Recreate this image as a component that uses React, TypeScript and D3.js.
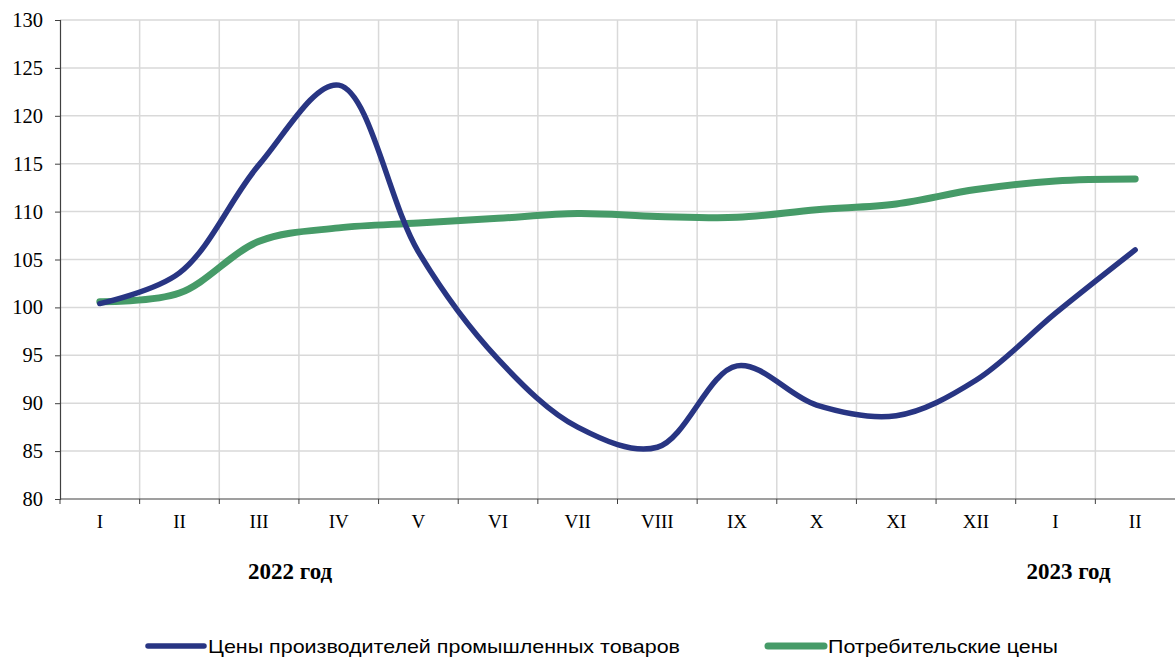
import React, { useEffect, useRef } from 'react';
import * as d3 from 'd3';

// months, 2022 I .. 2023 II
const months = ['I', 'II', 'III', 'IV', 'V', 'VI', 'VII', 'VIII', 'IX', 'X', 'XI', 'XII', 'I ', 'II '];
const producerPrices = [100.4, 103.6, 114.9, 123.2, 105.8, 94.6, 87.5, 85.4, 93.9, 89.8, 88.7, 92.4, 99.4, 106.0];
const consumerPrices = [100.6, 101.5, 106.9, 108.3, 108.8, 109.3, 109.8, 109.5, 109.4, 110.2, 110.8, 112.3, 113.2, 113.4];
const yTicks = [80, 85, 90, 95, 100, 105, 110, 115, 120, 125, 130];
const yearLabels = [
  { label: '2022 год', at: 'III', shift: 31 },
  { label: '2023 год', at: 'I ', shift: 13 },
];
const seriesNames = ['Цены производителей промышленных товаров', 'Потребительские цены'];
const seriesColors = ['#283583', '#469b68'];

const W = 1175;
const H = 662;

export default function App() {
  const svgRef = useRef<SVGSVGElement>(null);

  useEffect(() => {
    if (!svgRef.current) return;
    const svg = d3.select(svgRef.current);
    svg.selectAll('*').remove();

    const margin = { top: 20, right: 0, bottom: 163, left: 60 };
    const innerW = W - margin.left - margin.right;
    const innerH = H - margin.top - margin.bottom;
    const serif = '"Liberation Serif", "Times New Roman", serif';

    const x = d3.scaleBand().domain(months).range([0, innerW]);
    const y = d3.scaleLinear().domain([80, 130]).range([innerH, 0]);

    const g = svg.append('g').attr('transform', `translate(${margin.left},${margin.top})`);

    // horizontal grid
    g.append('g')
      .selectAll('line')
      .data(yTicks.filter(t => t > 80))
      .join('line')
      .attr('x1', 0)
      .attr('x2', innerW)
      .attr('y1', d => y(d))
      .attr('y2', d => y(d))
      .attr('stroke', '#d9d9d9')
      .attr('stroke-width', 1.5);

    // vertical grid at band edges
    g.append('g')
      .selectAll('line')
      .data(months.slice(1))
      .join('line')
      .attr('x1', d => x(d) || 0)
      .attr('x2', d => x(d) || 0)
      .attr('y1', 0)
      .attr('y2', innerH)
      .attr('stroke', '#d9d9d9')
      .attr('stroke-width', 1.5);

    // y axis
    const yAxis = g.append('g')
      .call(d3.axisLeft(y).tickValues(yTicks).tickSize(5).tickPadding(12));
    yAxis.select('.domain').attr('stroke', '#404040').attr('stroke-width', 1.2);
    yAxis.selectAll('line').attr('stroke', '#404040');
    yAxis.selectAll('text')
      .attr('fill', '#000')
      .style('font-family', serif)
      .style('font-size', '20.5px');

    // x axis: ticks at band edges, labels at centers
    const xAxisG = g.append('g').attr('transform', `translate(0,${innerH})`);
    xAxisG.append('line')
      .attr('x1', 0)
      .attr('x2', innerW)
      .attr('stroke', '#404040')
      .attr('stroke-width', 1.2);
    xAxisG.selectAll('line.tick')
      .data(months)
      .join('line')
      .attr('class', 'tick')
      .attr('x1', d => x(d) || 0)
      .attr('x2', d => x(d) || 0)
      .attr('y1', 0)
      .attr('y2', 5)
      .attr('stroke', '#404040');
    xAxisG.selectAll('text')
      .data(months)
      .join('text')
      .attr('x', d => (x(d) || 0) + x.bandwidth() / 2)
      .attr('y', 29)
      .attr('text-anchor', 'middle')
      .style('font-family', serif)
      .style('font-size', '19px')
      .text(d => d.trim());

    // year labels
    g.selectAll('text.year')
      .data(yearLabels)
      .join('text')
      .attr('class', 'year')
      .attr('x', d => (x(d.at) || 0) + x.bandwidth() / 2 + d.shift)
      .attr('y', innerH + 80)
      .attr('text-anchor', 'middle')
      .style('font-family', serif)
      .style('font-size', '23px')
      .style('font-weight', 'bold')
      .text(d => d.label);

    // lines
    const line = d3.line<number>()
      .x((_, i) => (x(months[i]) || 0) + x.bandwidth() / 2)
      .y(d => y(d))
      .curve(d3.curveCatmullRom.alpha(0.5));

    const series = [consumerPrices, producerPrices];
    const widths = [7, 5.5];
    const colors = [seriesColors[1], seriesColors[0]];
    series.forEach((s, i) => {
      g.append('path')
        .datum(s)
        .attr('d', line)
        .attr('fill', 'none')
        .attr('stroke', colors[i])
        .attr('stroke-width', widths[i])
        .attr('stroke-linecap', 'round')
        .attr('stroke-linejoin', 'round');
    });

    // legend
    const legendX = [148, 768];
    const legendLen = [472, 230];
    const legend = svg.append('g').attr('transform', 'translate(0,646)');
    seriesNames.forEach((name, i) => {
      legend.append('line')
        .attr('x1', legendX[i])
        .attr('x2', legendX[i] + 56)
        .attr('stroke', seriesColors[i])
        .attr('stroke-width', i === 0 ? 5.5 : 7)
        .attr('stroke-linecap', 'round');
      legend.append('text')
        .attr('x', legendX[i] + 60)
        .attr('y', 7)
        .attr('textLength', legendLen[i])
        .attr('lengthAdjust', 'spacingAndGlyphs')
        .style('font-family', '"Liberation Sans", Arial, sans-serif')
        .style('font-size', '19px')
        .attr('fill', '#000')
        .text(name);
    });
  }, []);

  return (
    <svg
      ref={svgRef}
      width={W}
      height={H}
      style={{ position: 'absolute', left: 0, top: 0, background: '#fff' }}
    />
  );
}
